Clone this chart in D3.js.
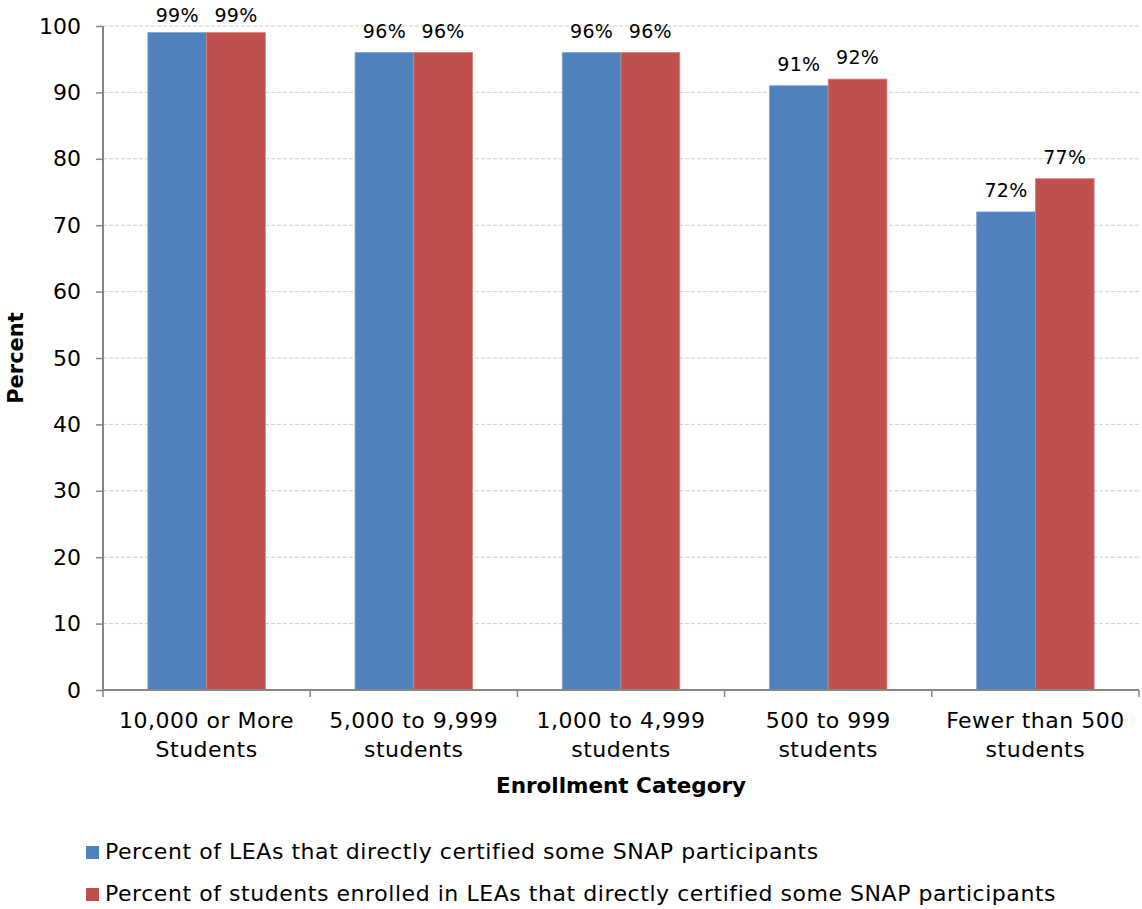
<!DOCTYPE html>
<html>
<head>
<meta charset="utf-8">
<script src="https://cdn.jsdelivr.net/npm/d3@7"></script>
<style>
  html, body { margin: 0; padding: 0; background: #fff; }
  svg { display: block; font-family: "DejaVu Sans", sans-serif; }
</style>
</head>
<body>
<svg id="chart" width="1142" height="909"></svg>
<script>
// Enrollment categories (two-line labels)
const categories = [
  ["10,000 or More", "Students"],
  ["5,000 to 9,999", "students"],
  ["1,000 to 4,999", "students"],
  ["500 to 999", "students"],
  ["Fewer than 500", "students"]
];
const seriesNames = [
  "Percent of LEAs that directly certified some SNAP participants",
  "Percent of students enrolled in LEAs that directly certified some SNAP participants"
];
const leaPct = [99, 96, 96, 91, 72];
const studentPct = [99, 96, 96, 92, 77];
const yTicks = [0, 10, 20, 30, 40, 50, 60, 70, 80, 90, 100];
const colors = ["#4F81BD", "#C0504D"];

(function () {
  const svg = d3.select("#chart");
  const plotL = 103, plotR = 1139, plotT = 26, plotB = 690;

  const x = d3.scaleBand()
    .domain(d3.range(categories.length))
    .range([plotL, plotR])
    .paddingInner(0).paddingOuter(0);
  const inner = d3.scaleBand()
    .domain([0, 1])
    .range([0, x.bandwidth()])
    .paddingOuter(0.7637).paddingInner(0);
  const y = d3.scaleLinear().domain([0, 100]).range([plotB, plotT]);

  // gridlines
  svg.append("g")
    .selectAll("line")
    .data(yTicks.filter(d => d > 0))
    .join("line")
    .attr("x1", plotL).attr("x2", plotR)
    .attr("y1", d => y(d)).attr("y2", d => y(d))
    .attr("stroke", "#d0d0d0")
    .attr("stroke-width", 1)
    .attr("stroke-dasharray", "4,2");

  // bars
  const data = categories.map((c, i) => [leaPct[i], studentPct[i]]);
  const groups = svg.append("g").selectAll("g")
    .data(data)
    .join("g")
    .attr("transform", (d, i) => `translate(${x(i)},0)`);

  groups.selectAll("rect")
    .data(d => d.map((v, s) => ({ v, s })))
    .join("rect")
    .attr("x", d => inner(d.s))
    .attr("width", inner.bandwidth())
    .attr("y", d => y(d.v))
    .attr("height", d => y(0) - y(d.v))
    .attr("fill", d => colors[d.s])
    .attr("stroke", d => d.s === 0 ? "#7fa2d0" : "#d57f7c")
    .attr("stroke-width", 0.8);

  // value labels above bars, kept inside the top of the chart
  groups.selectAll("text.val")
    .data(d => d.map((v, s) => ({ v, s })))
    .join("text")
    .attr("class", "val")
    .attr("x", d => inner(d.s) + inner.bandwidth() / 2)
    .attr("y", d => Math.max(y(d.v) - 15, 22))
    .attr("text-anchor", "middle")
    .attr("font-size", 19)
    .attr("letter-spacing", 0.3)
    .attr("fill", "#000")
    .text(d => d.v + "%");

  // y axis
  const yAxis = d3.axisLeft(y).tickValues(yTicks).tickSize(7).tickPadding(15);
  const gy = svg.append("g")
    .attr("transform", `translate(${plotL},0)`)
    .call(yAxis);
  gy.select(".domain").attr("stroke", "#868686").attr("stroke-width", 2)
    .attr("d", `M0,${plotT}V${plotB}`);
  gy.selectAll(".tick line").attr("stroke", "#868686").attr("stroke-width", 1.5);
  gy.selectAll(".tick text")
    .attr("font-size", 22)
    .attr("font-family", "DejaVu Sans, sans-serif")
    .attr("fill", "#000");

  // x axis
  const xAxis = d3.axisBottom(x).tickSize(0).tickFormat("");
  const gx = svg.append("g")
    .attr("transform", `translate(0,${plotB})`)
    .call(xAxis);
  gx.select(".domain").attr("stroke", "#868686").attr("stroke-width", 2)
    .attr("d", `M${plotL},0H${plotR}`);
  gx.selectAll(".tick").remove();

  // category boundary ticks
  svg.append("g").selectAll("line")
    .data(d3.range(categories.length + 1))
    .join("line")
    .attr("x1", i => plotL + i * x.bandwidth())
    .attr("x2", i => plotL + i * x.bandwidth())
    .attr("y1", plotB).attr("y2", plotB + 7)
    .attr("stroke", "#868686").attr("stroke-width", 1.5);

  // category labels
  const catLabels = svg.append("g").selectAll("text")
    .data(categories)
    .join("text")
    .attr("text-anchor", "middle")
    .attr("font-size", 22)
    .attr("letter-spacing", 0.5)
    .attr("fill", "#000");
  catLabels.selectAll("tspan")
    .data((d, i) => d.map(line => ({ line, i })))
    .join("tspan")
    .attr("x", d => x(d.i) + x.bandwidth() / 2)
    .attr("y", (d, j) => 728 + j * 29)
    .text(d => d.line);

  // axis titles
  svg.append("text")
    .attr("x", (plotL + plotR) / 2)
    .attr("y", 793)
    .attr("text-anchor", "middle")
    .attr("font-size", 21.5)
    .attr("font-weight", "bold")
    .text("Enrollment Category");

  svg.append("text")
    .attr("transform", `translate(23,${(plotT + plotB) / 2}) rotate(-90)`)
    .attr("text-anchor", "middle")
    .attr("font-size", 21)
    .attr("font-weight", "bold")
    .text("Percent");

  // legend
  const legend = svg.append("g").selectAll("g")
    .data(seriesNames)
    .join("g")
    .attr("transform", (d, i) => `translate(86,${846 + i * 42})`);
  legend.append("rect")
    .attr("width", 13).attr("height", 13)
    .attr("fill", (d, i) => colors[i]);
  legend.append("text")
    .attr("x", 19).attr("y", 13)
    .attr("font-size", 22)
    .attr("letter-spacing", 0.55)
    .attr("fill", "#000")
    .text(d => d);
})();
</script>
</body>
</html>
